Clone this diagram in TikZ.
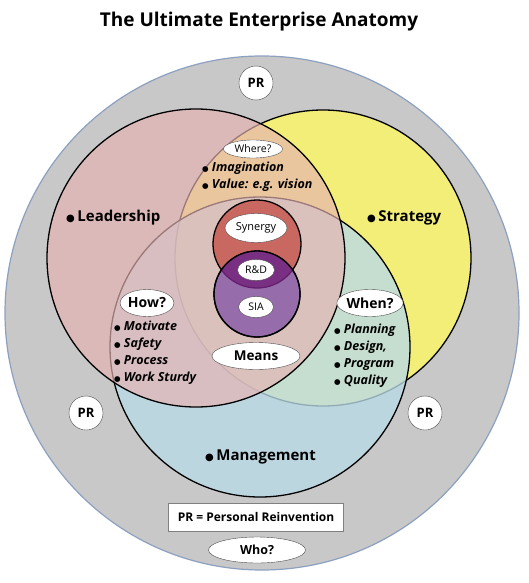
\documentclass[tikz,border=0pt]{standalone}
\usepackage{fontspec}
\setmainfont{Open Sans}
\newfontfamily\dotfont{DejaVu Sans}
\usepackage{tikz}
\usetikzlibrary{shapes}
\usetikzlibrary{shapes.geometric}
\definecolor{ringgray}{RGB}{200,200,200}
\definecolor{ringedge}{RGB}{140,160,192}
\definecolor{leadpink}{RGB}{231,179,179}
\definecolor{stratyellow}{RGB}{242,238,120}
\definecolor{mgmtblue}{RGB}{185,218,231}
\definecolor{synred}{RGB}{200,104,96}
\definecolor{siapurple}{RGB}{150,108,170}
\definecolor{rdpurple}{RGB}{122,48,130}
\definecolor{rdedge}{RGB}{100,30,110}
\newcommand{\bigdot}{{\dotfont\fontsize{10}{10}\selectfont ●}}
\newcommand{\smalldot}{{\dotfont\fontsize{7.5}{7.5}\selectfont ●}}
\tikzset{ell/.style = {ellipse, draw=black!70, fill=white, inner sep=0pt, thin}}
\tikzset{prnode/.style = {circle, draw=black!70, fill=white, inner sep=0pt, minimum size=34pt, font=\fontsize{13}{13}\selectfont\bfseries}}
\tikzset{biglabel/.style = {anchor=west, inner sep=0pt, font=\fontsize{15}{15}\selectfont\bfseries}}
\tikzset{bullets/.style = {anchor=west, inner sep=0pt, align=left, font=\fontsize{12.5}{17}\selectfont\bfseries\itshape}}

\begin{document}
\begin{tikzpicture}[x=1pt, y=-1pt]
\useasboundingbox (0,0) rectangle (528,583);
\node [inner sep=0pt, font=\fontsize{19}{19}\selectfont\bfseries] (title) at (259,22) {The Ultimate Enterprise Anatomy};
% outer ring
\filldraw [fill=ringgray, draw=ringedge, line width=1.2pt] (262,313) circle [radius=257pt];
% the three circles
\filldraw [fill=stratyellow, draw=black, line width=1.3pt] (323,258) circle [radius=148pt];
\filldraw [fill=mgmtblue, fill opacity=0.79, draw=black, line width=1.3pt] (260,347) circle [radius=150pt];
\filldraw [fill=leadpink, fill opacity=0.67, draw=black, line width=1.3pt] (196,258) circle [radius=149pt];
% core
\filldraw [fill=synred, draw=black, line width=1.3pt] (257,244) circle [radius=44pt];
\filldraw [fill=siapurple, draw=black, line width=1.3pt] (257,294) circle [radius=43pt];
\begin{scope}
\clip (257,244) circle [radius=44pt];
\fill [rdpurple] (257,294) circle [radius=43pt];
\end{scope}
\begin{scope}
\clip (257,294) circle [radius=43pt];
\draw [rdedge, line width=1.3pt] (257,244) circle [radius=44pt];
\end{scope}
\draw [black, line width=1.3pt] (257,294) circle [radius=43pt];
% labels in ellipses
\node [ell, minimum width=59pt, minimum height=18pt, font=\fontsize{10.5}{10.5}\selectfont] (where) at (253,149) {Where?};
\node [ell, minimum width=62pt, minimum height=29pt, font=\fontsize{11}{11}\selectfont] (synergy) at (256,228) {Synergy};
\node [ell, minimum width=37pt, minimum height=21pt, font=\fontsize{10.5}{10.5}\selectfont] (rd) at (256,270) {R\&D};
\node [ell, minimum width=35pt, minimum height=21pt, font=\fontsize{10.5}{10.5}\selectfont] (sia) at (256,307) {SIA};
\node [ell, minimum width=88pt, minimum height=27pt, font=\fontsize{13.5}{13.5}\selectfont\bfseries] (means) at (256,356) {Means};
\node [ell, minimum width=50pt, minimum height=27pt, font=\fontsize{14}{14}\selectfont\bfseries] (how) at (147,303) {How?};
\node [ell, minimum width=63pt, minimum height=27pt, font=\fontsize{14}{14}\selectfont\bfseries] (when) at (370,303) {When?};
\node [ell, minimum width=97pt, minimum height=26pt, font=\fontsize{12.5}{12.5}\selectfont\bfseries] (who) at (257,550) {Who?};
% PR
\node [prnode] (prtop) at (256,83) {PR};
\node [prnode] (prleft) at (86,413) {PR};
\node [prnode] (prright) at (425,413) {PR};
\node [rectangle, draw=black!50, fill=white, minimum width=175pt, minimum height=28pt, inner sep=0pt, font=\fontsize{12}{12}\selectfont\bfseries] (legend) at (256,517) {PR = Personal Reinvention};
% circle names
\node [biglabel] (lead) at (66,218) {\bigdot\,Leadership};
\node [biglabel] (strat) at (367,218) {\bigdot\,Strategy};
\node [biglabel] (mgmt) at (205,457) {\bigdot\,Management};
% lists
\node [bullets] (wherelist) at (202,177) {\smalldot\ Imagination\\\smalldot\ Value: e.g. vision};
\node [bullets] (howlist) at (114,353) {\smalldot\ Motivate\\\smalldot\ Safety\\\smalldot\ Process\\\smalldot\ Work Sturdy};
\node [bullets] (whenlist) at (334,356) {\smalldot\ Planning\\\smalldot\ Design,\\\smalldot\ Program\\\smalldot\ Quality};
\end{tikzpicture}
\end{document}
